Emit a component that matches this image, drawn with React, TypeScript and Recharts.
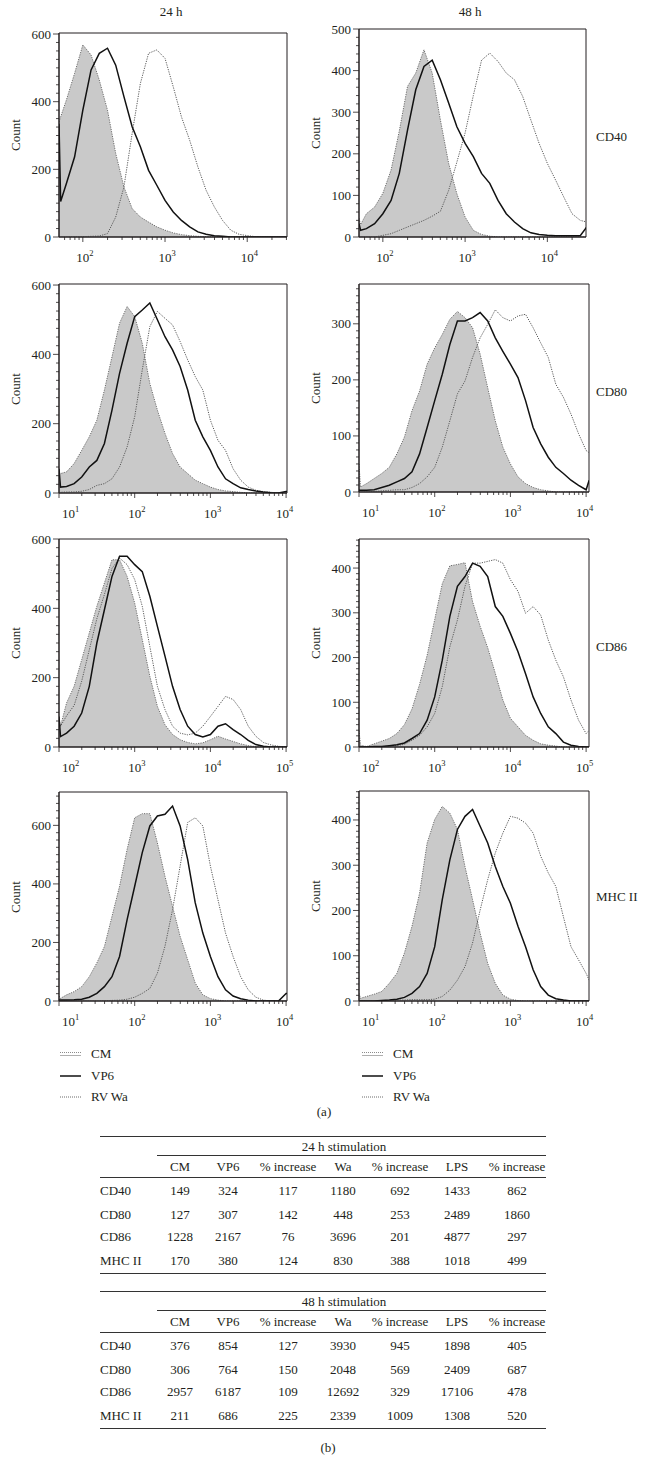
import React from 'react';
import { ComposedChart, Area, Line, XAxis, YAxis, ReferenceArea } from 'recharts';

const FONT = "'Liberation Serif', 'Times New Roman', serif";
const INK = '#231f20';

// x grids, log10 of fluorescence intensity
const gridA = [1.71, 1.73, 1.8, 1.9, 2.0, 2.1, 2.2, 2.3, 2.4, 2.5, 2.6, 2.7, 2.8, 2.9, 3.0, 3.1, 3.2, 3.3, 3.4, 3.5, 3.6, 3.7, 3.8, 3.9, 4.0, 4.1, 4.2, 4.3, 4.4, 4.48];
const gridB = [1.0, 1.02, 1.1, 1.2, 1.3, 1.4, 1.5, 1.6, 1.7, 1.8, 1.9, 2.0, 2.1, 2.2, 2.3, 2.4, 2.5, 2.6, 2.7, 2.8, 2.9, 3.0, 3.1, 3.2, 3.3, 3.4, 3.5, 3.6, 3.7, 3.8, 3.9, 4.0, 4.04];
const gridC = [2.0, 2.02, 2.1, 2.2, 2.3, 2.4, 2.5, 2.6, 2.7, 2.8, 2.9, 3.0, 3.1, 3.2, 3.3, 3.4, 3.5, 3.6, 3.7, 3.8, 3.9, 4.0, 4.1, 4.2, 4.3, 4.4, 4.5, 4.6, 4.7, 4.8, 4.9, 5.0, 5.04];

// CD40
const cd40h24Cm = [340, 355, 405, 484, 568, 538, 464, 375, 247, 148, 84, 59, 44, 30, 20, 12, 7, 4, 2, 1, 0, 0, 0, 0, 0, 0, 0, 0, 0, 0];
const cd40h24Vp6 = [335, 105, 158, 237, 375, 494, 543, 558, 508, 415, 326, 267, 197, 153, 108, 74, 49, 30, 15, 8, 4, 2, 0, 0, 0, 0, 0, 0, 0, 0];
const cd40h24Wa = [0, 0, 0, 1, 1, 2, 3, 10, 59, 148, 306, 454, 543, 553, 528, 444, 355, 286, 207, 138, 89, 49, 20, 8, 4, 1, 0, 0, 0, 0];
const cd40h48Cm = [45, 30, 56, 72, 105, 161, 255, 362, 394, 450, 394, 281, 177, 104, 48, 16, 6, 2, 0, 0, 0, 0, 0, 0, 0, 0, 0, 0, 0, 0];
const cd40h48Vp6 = [32, 16, 20, 32, 56, 88, 153, 257, 354, 410, 425, 378, 322, 265, 225, 193, 153, 129, 88, 56, 36, 20, 10, 6, 4, 3, 3, 3, 3, 24];
const cd40h48Wa = [0, 0, 0, 0, 4, 8, 16, 24, 32, 40, 50, 62, 112, 180, 250, 340, 425, 442, 422, 394, 378, 338, 281, 225, 177, 137, 96, 56, 40, 36];

// CD80
const cd80h24Cm = [56, 56, 61, 85, 123, 162, 210, 297, 393, 490, 538, 509, 432, 316, 239, 172, 114, 75, 56, 37, 27, 17, 10, 6, 4, 2, 0, 0, 0, 0, 0, 0, 0];
const cd80h24Vp6 = [70, 17, 19, 27, 46, 75, 94, 143, 239, 345, 432, 509, 528, 548, 500, 451, 413, 365, 297, 210, 162, 123, 75, 41, 27, 15, 10, 6, 3, 1, 0, 4, 4];
const cd80h24Wa = [2, 2, 3, 3, 5, 10, 22, 27, 41, 75, 133, 220, 355, 480, 524, 504, 485, 437, 384, 336, 297, 210, 152, 123, 70, 37, 17, 8, 4, 2, 0, 0, 0];
const cd80h48Cm = [50, 9, 15, 24, 33, 44, 68, 98, 145, 180, 228, 257, 281, 308, 322, 311, 293, 246, 186, 127, 80, 50, 27, 15, 8, 4, 2, 0, 0, 0, 0, 0, 0];
const cd80h48Vp6 = [3, 3, 3, 4, 8, 12, 18, 24, 36, 68, 115, 163, 210, 263, 305, 305, 311, 320, 305, 275, 251, 228, 204, 163, 115, 86, 62, 44, 33, 21, 12, 4, 21];
const cd80h48Wa = [0, 0, 0, 1, 2, 3, 4, 4, 8, 15, 27, 44, 80, 127, 175, 198, 240, 275, 299, 325, 311, 305, 314, 317, 293, 266, 240, 192, 169, 139, 104, 74, 70];

// CD86
const cd86h24Cm = [80, 60, 127, 175, 252, 329, 406, 473, 540, 540, 492, 415, 310, 204, 117, 64, 36, 21, 13, 9, 12, 21, 31, 23, 16, 9, 4, 1, 0, 0, 0, 0, 0];
const cd86h24Vp6 = [88, 30, 40, 60, 98, 175, 300, 396, 492, 550, 550, 526, 506, 435, 348, 262, 175, 108, 60, 36, 29, 36, 60, 67, 50, 36, 19, 7, 2, 0, 0, 0, 0];
const cd86h24Wa = [69, 60, 90, 120, 190, 280, 370, 440, 515, 545, 526, 483, 406, 290, 175, 108, 60, 40, 35, 40, 60, 88, 117, 146, 137, 108, 60, 31, 13, 6, 2, 0, 0];
const cd86h48Cm = [37, 4, 1, 7, 13, 19, 30, 50, 85, 140, 205, 285, 365, 405, 408, 412, 325, 270, 222, 165, 105, 64, 45, 26, 15, 7, 4, 2, 0, 0, 0, 0, 0];
const cd86h48Vp6 = [0, 0, 0, 1, 1, 3, 5, 9, 19, 30, 60, 112, 194, 292, 359, 381, 411, 404, 381, 314, 292, 254, 213, 164, 112, 75, 45, 30, 11, 4, 1, 0, 0];
const cd86h48Wa = [0, 0, 0, 1, 1, 2, 3, 6, 15, 26, 45, 75, 135, 224, 284, 359, 411, 411, 415, 419, 411, 374, 348, 299, 314, 295, 239, 194, 157, 105, 60, 30, 37];

// MHC II
const mhcH24Cm = [17, 9, 21, 32, 49, 83, 130, 186, 289, 392, 518, 626, 640, 640, 540, 426, 323, 221, 141, 61, 21, 8, 3, 0, 0, 0, 0, 0, 0, 0, 0, 0, 0];
const mhcH24Vp6 = [3, 3, 3, 4, 6, 13, 26, 49, 83, 152, 278, 392, 507, 598, 632, 638, 666, 598, 483, 335, 232, 152, 83, 38, 17, 8, 3, 0, 0, 0, 0, 26, 26];
const mhcH24Wa = [0, 0, 0, 0, 0, 0, 0, 1, 2, 3, 6, 13, 26, 43, 95, 187, 312, 461, 610, 626, 598, 461, 346, 232, 152, 83, 38, 13, 3, 0, 0, 0, 0];
const mhcH48Cm = [17, 6, 10, 15, 21, 39, 61, 106, 165, 238, 349, 401, 430, 415, 379, 297, 224, 150, 83, 39, 13, 4, 1, 0, 0, 0, 0, 0, 0, 0, 0, 0, 0];
const mhcH48Vp6 = [0, 0, 0, 0, 1, 2, 4, 8, 17, 32, 61, 120, 224, 312, 379, 408, 423, 386, 349, 297, 253, 216, 165, 120, 69, 32, 13, 5, 2, 0, 0, 0, 0];
const mhcH48Wa = [0, 0, 0, 0, 1, 1, 2, 2, 3, 3, 3, 4, 10, 24, 46, 76, 128, 201, 268, 327, 371, 408, 404, 393, 371, 320, 283, 253, 186, 120, 91, 61, 46];

const markers = ['CD40', 'CD80', 'CD86', 'MHC II'];
const timeLabels = ['24 h', '48 h'];
const legendNames = ['CM', 'VP6', 'RV Wa'];

const tableCols = ['CM', 'VP6', '% increase', 'Wa', '% increase', 'LPS', '% increase'];
const h24Rows = [
  [149, 324, 117, 1180, 692, 1433, 862],
  [127, 307, 142, 448, 253, 2489, 1860],
  [1228, 2167, 76, 3696, 201, 4877, 297],
  [170, 380, 124, 830, 388, 1018, 499],
];
const h48Rows = [
  [376, 854, 127, 3930, 945, 1898, 405],
  [306, 764, 150, 2048, 569, 2409, 687],
  [2957, 6187, 109, 12692, 329, 17106, 478],
  [211, 686, 225, 2339, 1009, 1308, 520],
];

// log axis ticks: decades and 2..9 multiples inside the domain
function logTicks(lo: number, hi: number) {
  const out: number[] = [];
  for (let d = Math.floor(lo); d <= Math.ceil(hi); d++) {
    for (let k = 1; k <= 9; k++) {
      const v = +(d + Math.log10(k)).toFixed(4);
      if (v >= lo - 1e-6 && v <= hi + 1e-6) out.push(v);
    }
  }
  return out;
}

function XTick(props: any) {
  const { x, y, payload, lo, hi } = props;
  const v = payload.value;
  const major = Math.abs(v - Math.round(v)) < 1e-4;
  let sx = x - 6.5;
  if (Math.abs(v - lo) < 0.02) sx = x + 3;
  else if (hi - v < 0.06) sx = x - 10;
  return (
    <g>
      <line x1={x} y1={y} x2={x} y2={y + (major ? 5 : 3)} stroke={INK} strokeWidth={0.8} />
      {major && (
        <text x={sx} y={y + 25} fontSize={13} fontFamily={FONT} fill={INK}>
          10<tspan dy={-6} fontSize={8.5}>{Math.round(v)}</tspan>
        </text>
      )}
    </g>
  );
}

function YTick(props: any) {
  const { x, y, payload, step } = props;
  const v = payload.value;
  const major = Math.abs(v / step - Math.round(v / step)) < 1e-6;
  return (
    <g>
      <line x1={x - (major ? 6 : 3)} y1={y} x2={x} y2={y} stroke={INK} strokeWidth={0.8} />
      {major && (
        <text x={x - 8} y={y + 4.5} textAnchor="end" fontSize={13} fontFamily={FONT} fill={INK}>
          {v}
        </text>
      )}
    </g>
  );
}

type PanelSpec = {
  grid: number[]; cm: number[]; vp6: number[]; wa: number[];
  x0: number; y0: number; x1: number; y1: number;
  xLo: number; xHi: number; yMax: number; yStep: number; yMinor: number;
};

function Panel(p: PanelSpec) {
  const data = p.grid.map((x, i) => ({ x, cm: p.cm[i], vp6: p.vp6[i], wa: p.wa[i] }));
  const w = p.x1 - p.x0 + 60;
  const h = p.y1 - p.y0 + 40;
  const yTicks: number[] = [];
  for (let v = 0; v <= p.yMax + 1e-6; v += p.yMinor) yTicks.push(+v.toFixed(2));
  const xTicks = logTicks(p.xLo, p.xHi);
  return (
    <div style={{ position: 'absolute', left: p.x0 - 50, top: p.y0 - 10 }}>
      <ComposedChart width={w} height={h} data={data} margin={{ top: 10, right: 10, bottom: 0, left: 0 }} style={{ overflow: 'visible' }}>
        <XAxis
          dataKey="x" type="number" domain={[p.xLo, p.xHi]} allowDataOverflow
          ticks={xTicks} interval={0} height={30} tickSize={0} tickMargin={0} tickLine={false}
          stroke={INK}
          tick={(t: any) => <XTick {...t} lo={p.xLo} hi={p.xHi} />}
        />
        <YAxis
          type="number" domain={[0, p.yMax]} allowDataOverflow
          ticks={yTicks} interval={0} width={50} tickSize={0} tickMargin={0} tickLine={false}
          stroke={INK}
          tick={(t: any) => <YTick {...t} step={p.yStep} />}
        />
        <Area
          type="linear" dataKey="cm" fill="#c9c9c9" fillOpacity={1}
          stroke="#6d6d6d" strokeWidth={1} strokeDasharray="1.2 1.2"
          dot={false} activeDot={false} isAnimationActive={false}
        />
        <Line
          type="linear" dataKey="wa" stroke="#5a5a5a" strokeWidth={1} strokeDasharray="1.2 1.2"
          dot={false} activeDot={false} isAnimationActive={false}
        />
        <Line
          type="linear" dataKey="vp6" stroke="#111" strokeWidth={1.5}
          dot={false} activeDot={false} isAnimationActive={false}
        />
        <ReferenceArea x1={p.xLo} x2={p.xHi} y1={0} y2={p.yMax} fill="none" stroke={INK} strokeWidth={1} />
      </ComposedChart>
    </div>
  );
}

const panels: PanelSpec[] = [
  { grid: gridA, cm: cd40h24Cm, vp6: cd40h24Vp6, wa: cd40h24Wa, x0: 59, y0: 33, x1: 287, y1: 237, xLo: 1.71, xHi: 4.484, yMax: 603, yStep: 200, yMinor: 25 },
  { grid: gridA, cm: cd40h48Cm, vp6: cd40h48Vp6, wa: cd40h48Wa, x0: 359, y0: 29, x1: 586, y1: 237, xLo: 1.71, xHi: 4.47, yMax: 500, yStep: 100, yMinor: 20 },
  { grid: gridB, cm: cd80h24Cm, vp6: cd80h24Vp6, wa: cd80h24Wa, x0: 59, y0: 284, x1: 287, y1: 493, xLo: 1, xHi: 4.012, yMax: 603, yStep: 200, yMinor: 25 },
  { grid: gridB, cm: cd80h48Cm, vp6: cd80h48Vp6, wa: cd80h48Wa, x0: 359, y0: 284, x1: 589, y1: 492, xLo: 1, xHi: 4.038, yMax: 371, yStep: 100, yMinor: 12.5 },
  { grid: gridC, cm: cd86h24Cm, vp6: cd86h24Vp6, wa: cd86h24Wa, x0: 59, y0: 539, x1: 287, y1: 747, xLo: 2, xHi: 5.012, yMax: 600, yStep: 200, yMinor: 25 },
  { grid: gridC, cm: cd86h48Cm, vp6: cd86h48Vp6, wa: cd86h48Wa, x0: 359, y0: 539, x1: 589, y1: 747, xLo: 2, xHi: 5.038, yMax: 465, yStep: 100, yMinor: 12.5 },
  { grid: gridB, cm: mhcH24Cm, vp6: mhcH24Vp6, wa: mhcH24Wa, x0: 59, y0: 792, x1: 287, y1: 1001, xLo: 1, xHi: 4.012, yMax: 714, yStep: 200, yMinor: 25 },
  { grid: gridB, cm: mhcH48Cm, vp6: mhcH48Vp6, wa: mhcH48Wa, x0: 359, y0: 791, x1: 589, y1: 1001, xLo: 1, xHi: 4.038, yMax: 464, yStep: 100, yMinor: 12.5 },
];

const txt: React.CSSProperties = { position: 'absolute', fontFamily: FONT, fontSize: 13, color: INK, whiteSpace: 'nowrap', lineHeight: '16px' };

function Legend({ left, top }: { left: number; top: number }) {
  return (
    <div style={{ position: 'absolute', left, top }}>
      {legendNames.map((name, i) => (
        <div key={name} style={{ position: 'absolute', top: i * 21.5, left: 0, width: 120, height: 16 }}>
          <svg width={22} height={16} style={{ position: 'absolute', left: 0, top: 0 }}>
            {i === 0 && (
              <>
                <line x1={0} y1={6.5} x2={21} y2={6.5} stroke="#6d6d6d" strokeWidth={0.8} strokeDasharray="1 1" />
                <line x1={0} y1={9.5} x2={21} y2={9.5} stroke="#9a9a9a" strokeWidth={0.8} />
              </>
            )}
            {i === 1 && <line x1={0} y1={8} x2={21} y2={8} stroke="#111" strokeWidth={1.5} />}
            {i === 2 && <line x1={0} y1={8} x2={21} y2={8} stroke="#5a5a5a" strokeWidth={0.9} strokeDasharray="1 1" />}
          </svg>
          <span style={{ ...txt, left: 31, top: 0 }}>{name}</span>
        </div>
      ))}
    </div>
  );
}

const colCenters = [180, 228, 288, 343, 400, 457, 517];

function StatTable({ top, title, rows }: { top: number; title: string; rows: number[][] }) {
  const rowY = [55, 79, 101, 125];
  const rule = (y: number, x0: number, hgt = 1) => (
    <div style={{ position: 'absolute', left: x0, top: y, width: 546 - x0, height: hgt, background: '#333' }} />
  );
  return (
    <div style={{ position: 'absolute', left: 0, top, width: 648 }}>
      {rule(0, 100)}
      <span style={{ ...txt, left: 344, top: 3, transform: 'translateX(-50%)' }}>{title}</span>
      {rule(19, 157)}
      {tableCols.map((c, j) => (
        <span key={j} style={{ ...txt, left: colCenters[j], top: 23, transform: 'translateX(-50%)' }}>{c}</span>
      ))}
      {rule(41, 100)}
      {rows.map((r, i) => (
        <React.Fragment key={i}>
          <span style={{ ...txt, left: 100, top: rowY[i] - 8 }}>{markers[i]}</span>
          {r.map((v, j) => (
            <span key={j} style={{ ...txt, left: colCenters[j], top: rowY[i] - 8, transform: 'translateX(-50%)' }}>{v}</span>
          ))}
        </React.Fragment>
      ))}
      {rule(137, 100)}
    </div>
  );
}

export default function App() {
  const markerY = [129, 384, 639, 889];
  return (
    <div style={{ position: 'absolute', left: 0, top: 0, width: 648, height: 1470, background: '#fff', overflow: 'hidden' }}>
      <span style={{ ...txt, left: 171, top: 4, transform: 'translateX(-50%)' }}>{timeLabels[0]}</span>
      <span style={{ ...txt, left: 470, top: 4, transform: 'translateX(-50%)' }}>{timeLabels[1]}</span>
      {panels.map((p, i) => (
        <React.Fragment key={i}>
          <Panel {...p} />
          <span
            style={{
              ...txt,
              left: (i % 2 === 0 ? 15.5 : 316) - 30,
              top: (p.y0 + p.y1) / 2 - 8,
              width: 60,
              textAlign: 'center',
              transform: 'rotate(-90deg)',
            }}
          >
            Count
          </span>
          {i % 2 === 1 && (
            <div style={{ position: 'absolute', left: 596, top: markerY[(i - 1) / 2], width: 44, height: 18, overflow: 'hidden' }}>
              <span style={{ ...txt, left: 0, top: 0 }}>{markers[(i - 1) / 2]}</span>
            </div>
          )}
        </React.Fragment>
      ))}
      <Legend left={60} top={1046} />
      <Legend left={362} top={1046} />
      <span style={{ ...txt, left: 324, top: 1104, transform: 'translateX(-50%)' }}>(a)</span>
      <StatTable top={1136} title="24 h stimulation" rows={h24Rows} />
      <StatTable top={1291} title="48 h stimulation" rows={h48Rows} />
      <span style={{ ...txt, left: 328, top: 1440, transform: 'translateX(-50%)' }}>(b)</span>
    </div>
  );
}
